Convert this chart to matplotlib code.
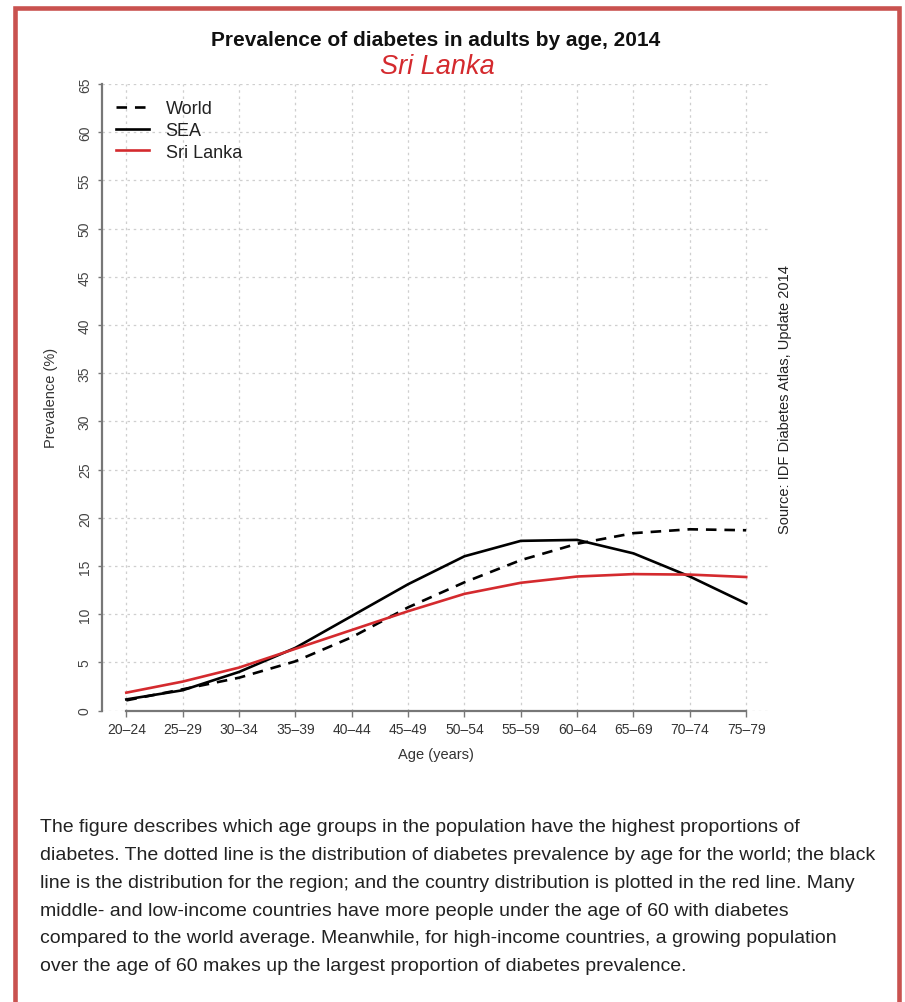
import matplotlib
matplotlib.use("Agg")
import matplotlib.pyplot as plt
from matplotlib.patches import Rectangle

age_groups = ["20–24", "25–29", "30–34", "35–39", "40–44", "45–49",
              "50–54", "55–59", "60–64", "65–69", "70–74", "75–79"]
world = [1.05, 2.2, 3.4, 5.1, 7.6, 10.7, 13.3, 15.6, 17.3, 18.4, 18.8, 18.7]
sea = [1.15, 2.1, 4.0, 6.5, 9.8, 13.1, 16.0, 17.6, 17.7, 16.3, 13.9, 11.1]
sri_lanka = [1.85, 3.0, 4.45, 6.4, 8.35, 10.3, 12.1, 13.25, 13.9, 14.15, 14.1, 13.85]
y_ticks = list(range(0, 70, 5))

title = "Prevalence of diabetes in adults by age, 2014"
subtitle = "Sri Lanka"
source = "Source: IDF Diabetes Atlas, Update 2014"
paragraph = [
    "The figure describes which age groups in the population have the highest proportions of",
    "diabetes. The dotted line is the distribution of diabetes prevalence by age for the world; the black",
    "line is the distribution for the region; and the country distribution is plotted in the red line. Many",
    "middle- and low-income countries have more people under the age of 60 with diabetes",
    "compared to the world average. Meanwhile, for high-income countries, a growing population",
    "over the age of 60 makes up the largest proportion of diabetes prevalence.",
]

plt.rcParams['font.family'] = ['Liberation Sans', 'DejaVu Sans']

W, H = 905, 1003
fig = plt.figure(figsize=(W / 100, H / 100), dpi=100)

def fx(px):
    return px / W

def fy(py):
    return 1 - py / H

# border
fig.patches.append(Rectangle((fx(15), fy(1010)), fx(899) - fx(15), fy(9) - fy(1010),
                             transform=fig.transFigure, fill=False,
                             edgecolor="#c9524f", linewidth=3.3, zorder=0))

ax_left, ax_right, ax_top, ax_bottom = 101.5, 771, 85, 711.5
ax = fig.add_axes([fx(ax_left), fy(ax_bottom), fx(ax_right) - fx(ax_left), fy(ax_top) - fy(ax_bottom)])
x = list(range(len(age_groups)))
ax.plot(x, world, color="black", lw=1.9, linestyle=(0, (4, 3)), label="World")
ax.plot(x, sea, color="black", lw=1.9, label="SEA")
ax.plot(x, sri_lanka, color="#d42a2e", lw=1.9, label="Sri Lanka")

ax.set_xlim(-0.44, 11.44)
ax.set_ylim(0, 65)
ax.set_xticks(x)
ax.set_xticklabels(age_groups, fontsize=10, color="#333333")
ax.set_yticks(y_ticks)
ax.set_yticklabels([str(v) for v in y_ticks], fontsize=10, color="#444444", rotation=90, va="center")
ax.tick_params(axis="x", length=4, width=1, color="#777777", pad=4)
ax.tick_params(axis="y", length=3, width=1, color="#777777", pad=4)
ax.grid(True, color="#cfcfcf", linestyle=(0, (2, 3)), linewidth=0.9)
for s in ("top", "right"):
    ax.spines[s].set_visible(False)
ax.spines["bottom"].set_bounds(0, 11)
for s in ("left", "bottom"):
    ax.spines[s].set_color("#777777")
    ax.spines[s].set_linewidth(1.6)
ax.set_xlabel("Age (years)", fontsize=10.5, color="#333333", labelpad=8)
ax.set_ylabel("Prevalence (%)", fontsize=10.5, color="#333333", labelpad=14)

leg = ax.legend(loc="upper left", bbox_to_anchor=(0.0, 0.997), frameon=False, fontsize=13,
                handlelength=1.85, handletextpad=0.9, labelspacing=0.26, borderaxespad=0.4,
                borderpad=0.4)
for t in leg.get_texts():
    t.set_color("#222222")

fig.text(fx(436), fy(41), title, ha="center", va="center", fontsize=15, fontweight="bold", color="#111111")
fig.text(fx(437), fy(67), subtitle, ha="center", va="center", fontsize=19.5, style="italic", color="#d42a2e")
fig.text(fx(785), fy(400), source, ha="center", va="center", rotation=90, fontsize=10.5, color="#222222")

for i, line in enumerate(paragraph):
    fig.text(fx(40), fy(828 + i * 27.7), line, ha="left", va="center", fontsize=14.0,
             color="#222222")

fig.savefig("out.png", dpi=100)
